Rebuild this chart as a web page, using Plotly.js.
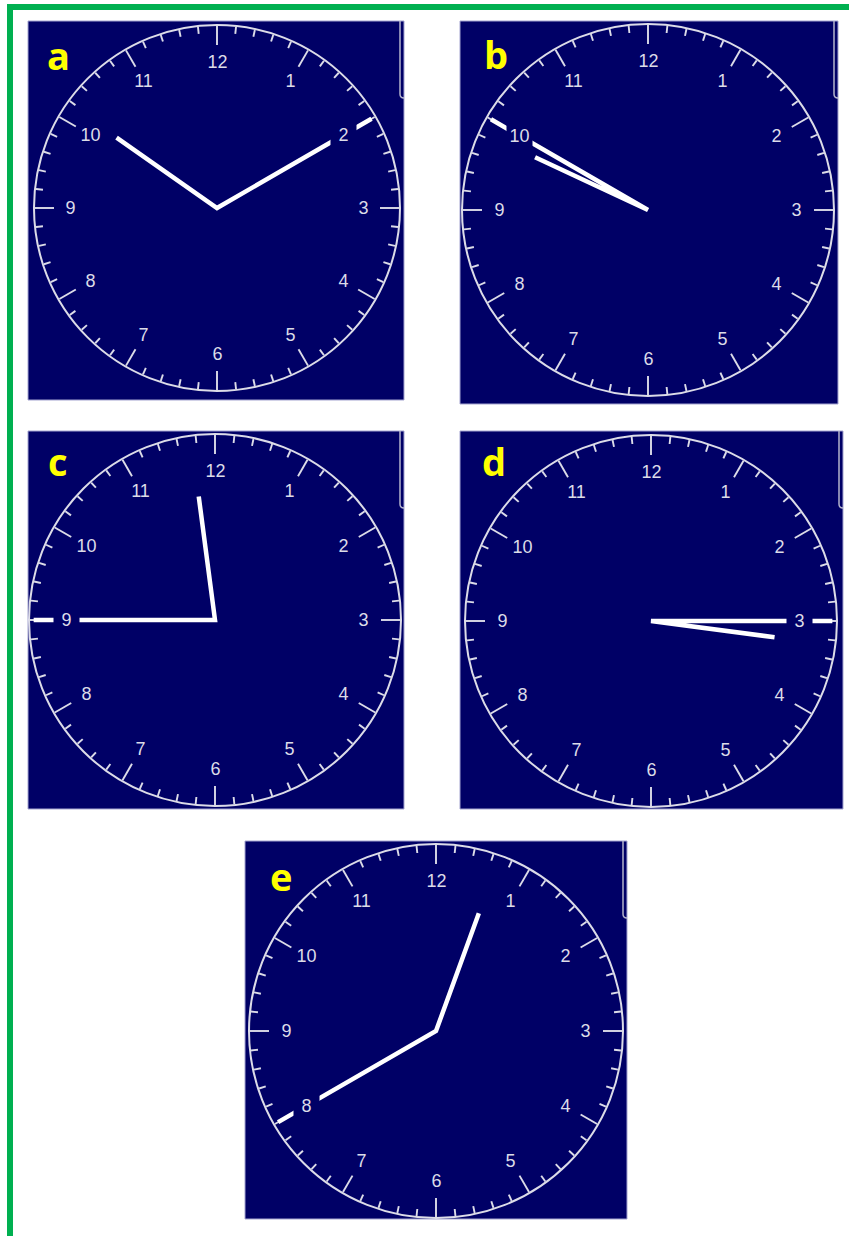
<!DOCTYPE html>
<html><head><meta charset="utf-8">
<script src="https://cdn.plot.ly/plotly-3.0.1.min.js"></script>
<style>html,body{margin:0;padding:0;background:#fff;}#chart{width:849px;height:1236px;}</style>
</head><body><div id="chart"></div>
<script>
// ---- data ----
const panelLetters = ['a', 'b', 'c', 'd', 'e'];
const clockHours = [10, 9, 11, 3, 12];
const clockMinutes = [10, 50, 45, 15, 40];
const hourLabels = ['12', '1', '2', '3', '4', '5', '6', '7', '8', '9', '10', '11'];

// ---- layout geometry (pixels) ----
const W = 849, H = 1236;
const panels = [
  {x0: 28,  x1: 404, y0: 21,  y1: 400,  cx: 217, cy: 208,  r: 183},
  {x0: 460, x1: 838, y0: 21,  y1: 404,  cx: 648, cy: 210,  r: 186},
  {x0: 28,  x1: 404, y0: 431, y1: 809,  cx: 215, cy: 620,  r: 186},
  {x0: 460, x1: 843, y0: 431, y1: 809,  cx: 651, cy: 621,  r: 186},
  {x0: 245, x1: 627, y0: 841, y1: 1219, cx: 436, cy: 1031, r: 187}
];
const NAVY = '#000066';
const RIM = '#dcdce8';
const DEG = Math.PI / 180;

const traces = [];
const layout = {
  width: W, height: H,
  margin: {l: 0, r: 0, t: 0, b: 0},
  paper_bgcolor: '#ffffff',
  plot_bgcolor: NAVY,
  showlegend: false,
  shapes: [],
  annotations: []
};

panels.forEach((p, i) => {
  const sfx = i === 0 ? '' : String(i + 1);
  const xa = 'x' + sfx, ya = 'y' + sfx;
  layout['xaxis' + sfx] = {domain: [p.x0 / W, p.x1 / W], range: [p.x0 - p.cx, p.x1 - p.cx],
    visible: false, fixedrange: true, anchor: ya};
  layout['yaxis' + sfx] = {domain: [1 - p.y1 / H, 1 - p.y0 / H], range: [p.cy - p.y1, p.cy - p.y0],
    visible: false, fixedrange: true, anchor: xa};

  // panel border
  layout.shapes.push({type: 'rect', xref: 'paper', yref: 'paper',
    x0: p.x0 / W, x1: p.x1 / W, y0: 1 - p.y1 / H, y1: 1 - p.y0 / H,
    line: {color: '#a4a4d0', width: 1}, layer: 'above'});

  // dial rim
  layout.shapes.push({type: 'circle', xref: xa, yref: ya, x0: -p.r, x1: p.r, y0: -p.r, y1: p.r,
    line: {color: RIM, width: 2}});

  // small frame-like corner line at top right
  const xl = p.x1 - p.cx - 4, yt = p.cy - p.y0 + 1, yb = yt - 78;
  layout.shapes.push({type: 'path', xref: xa, yref: ya,
    path: `M ${xl},${yt} L ${xl},${yb + 4} Q ${xl},${yb} ${xl + 4},${yb}`,
    line: {color: '#b4b4cc', width: 1.5}});

  // minute / hour ticks
  const tx = [], ty = [];
  for (let k = 0; k < 60; k++) {
    const a = k * 6 * DEG;
    const len = (k % 5 === 0) ? 20 : 8;
    const r1 = p.r - 1, r0 = p.r - len;
    tx.push(r0 * Math.sin(a), r1 * Math.sin(a), null);
    ty.push(r0 * Math.cos(a), r1 * Math.cos(a), null);
  }
  traces.push({type: 'scatter', mode: 'lines', x: tx, y: ty, xaxis: xa, yaxis: ya,
    line: {color: RIM, width: 1.9}, hoverinfo: 'skip'});

  // hands
  const h = clockHours[i], m = clockMinutes[i];
  const ha = ((h % 12) + m / 60) * 30 * DEG;
  const ma = m * 6 * DEG;
  const hl = 0.67 * p.r, ml = 0.975 * p.r;
  traces.push({type: 'scatter', mode: 'lines',
    x: [hl * Math.sin(ha), 0, ml * Math.sin(ma)],
    y: [hl * Math.cos(ha), 0, ml * Math.cos(ma)],
    xaxis: xa, yaxis: ya, line: {color: '#ffffff', width: 4.5}, hoverinfo: 'skip'});

  // hour numbers (navy box hides the hand behind)
  hourLabels.forEach((t, k) => {
    const a = k * 30 * DEG, rr = 0.8 * p.r;
    layout.annotations.push({xref: xa, yref: ya, x: rr * Math.sin(a), y: rr * Math.cos(a),
      text: t, showarrow: false, xanchor: 'center', yanchor: 'middle',
      width: 25, height: 22, bgcolor: NAVY, borderpad: 0,
      font: {family: 'Liberation Sans, Arial, sans-serif', size: 18, color: '#dcdce8'}});
  });
});

// panel letters
const letterPos = [[30, 42], [36, 41], [30, 38], [34.5, 38], [35.5, 43]];
panelLetters.forEach((L, i) => {
  const p = panels[i];
  const sfx = i === 0 ? '' : String(i + 1);
  layout.annotations.push({xref: 'x' + sfx, yref: 'y' + sfx,
    x: p.x0 + letterPos[i][0] - p.cx, y: p.cy - (p.y0 + letterPos[i][1] - 8),
    text: L, showarrow: false, xanchor: 'center', yanchor: 'middle',
    font: {family: 'Open Sans, sans-serif', size: 38, color: '#ffff00', weight: 700}});
});

// green frame lines (left and top)
layout.shapes.push({type: 'rect', xref: 'paper', yref: 'paper', x0: 7 / W, x1: 13 / W, y0: 0, y1: 1 - 4 / H,
  fillcolor: '#00b050', line: {width: 0}});
layout.shapes.push({type: 'rect', xref: 'paper', yref: 'paper', x0: 7 / W, x1: 1, y0: 1 - 10 / H, y1: 1 - 4 / H,
  fillcolor: '#00b050', line: {width: 0}});

Plotly.newPlot('chart', traces, layout, {displayModeBar: false, staticPlot: true});
</script>
</body></html>
